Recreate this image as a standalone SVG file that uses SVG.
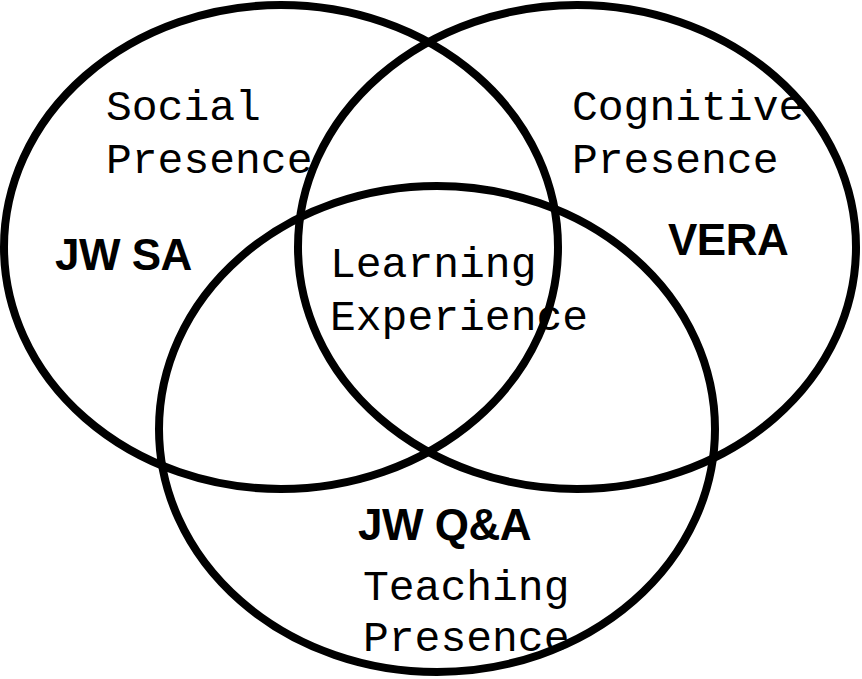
<svg xmlns="http://www.w3.org/2000/svg" width="862" height="679" viewBox="0 0 862 679">
<style>
.c{fill:none;stroke:#000;stroke-width:8}
.m{font-family:"Liberation Mono","Courier New",monospace;font-size:43px;fill:#000}
.b{font-family:"Liberation Sans",Arial,sans-serif;font-size:44px;font-weight:bold;fill:#000;letter-spacing:-0.5px}
</style>
<rect width="862" height="679" fill="#fff"/>
<g id="social">
<ellipse class="c" cx="281" cy="247" rx="277" ry="242"/>
<text class="m" x="106" y="120">Social</text>
<text class="m" x="106" y="173">Presence</text>
<text class="b" x="55" y="270">JW SA</text>
</g>
<g id="cognitive">
<ellipse class="c" cx="577" cy="247" rx="279" ry="242"/>
<text class="m" x="572" y="120">Cognitive</text>
<text class="m" x="572" y="173">Presence</text>
<text class="b" x="668" y="255">VERA</text>
</g>
<g id="teaching">
<ellipse class="c" cx="437" cy="429" rx="278" ry="243"/>
<text class="b" x="358" y="540">JW Q&amp;A</text>
<text class="m" x="363" y="600">Teaching</text>
<text class="m" x="363" y="651">Presence</text>
</g>
<g id="center">
<text class="m" x="330" y="277">Learning</text>
<text class="m" x="330" y="330">Experience</text>
</g>
<g id="connectors"/>
</svg>
